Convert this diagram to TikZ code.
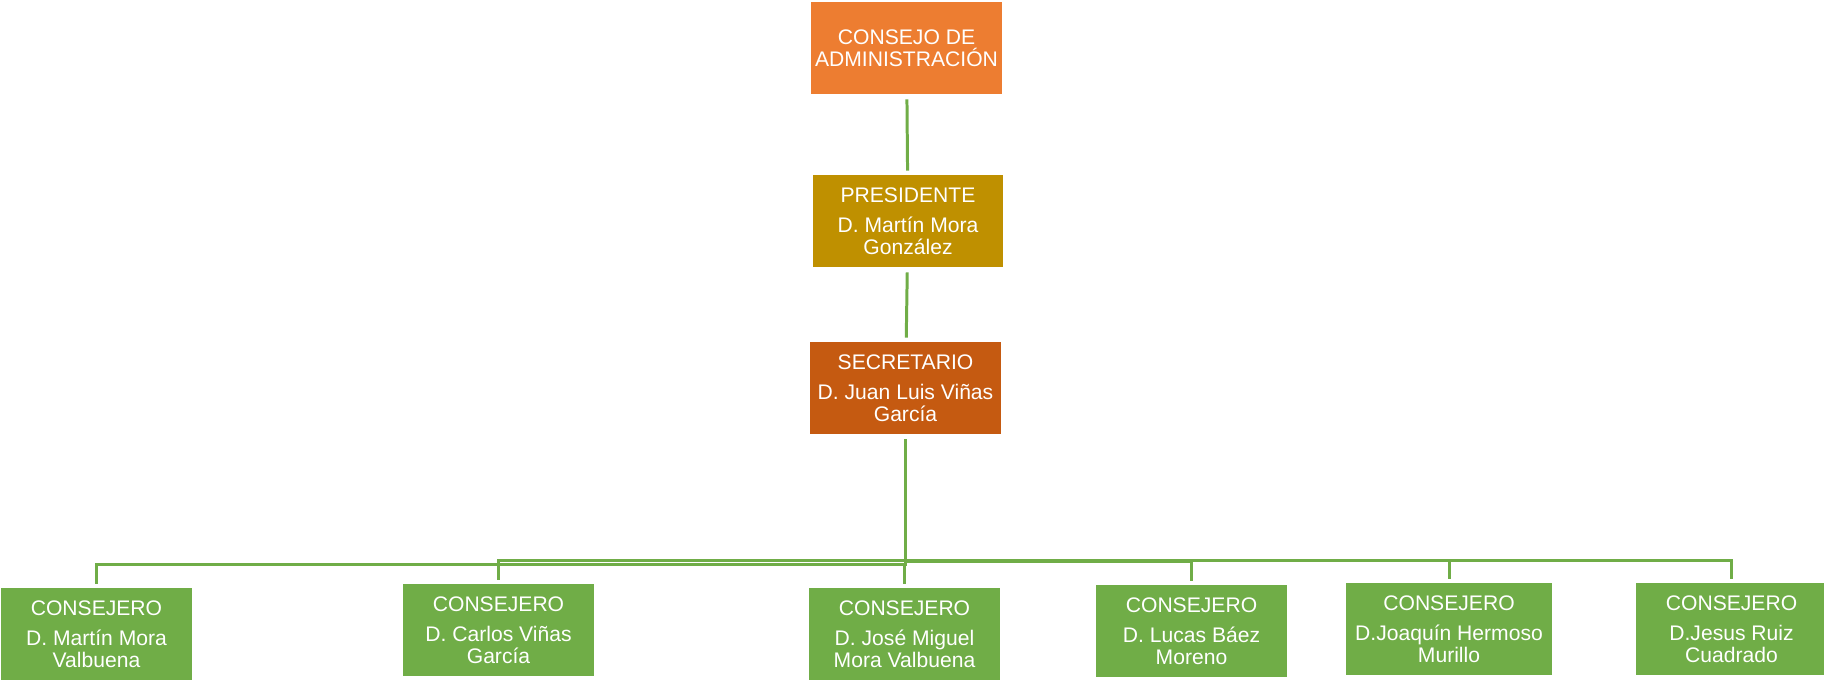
\documentclass[tikz,border=0pt]{standalone}
\usepackage{fontspec}
\setmainfont{Liberation Sans}
\definecolor{boardorange}{HTML}{ED7D31}
\definecolor{presgold}{HTML}{BF9000}
\definecolor{secrust}{HTML}{C55A11}
\definecolor{memgreen}{HTML}{70AD47}

\begin{document}
\begin{tikzpicture}[x=0.01cm,y=-0.01cm,
  box/.style={rectangle,draw=white,line width=0.3pt,text=white,align=center,inner sep=0pt,
    minimum width=1.91cm,minimum height=0.93cm,font=\fontsize{6}{6.2}\selectfont},
  link/.style={draw=memgreen,line width=0.85pt,shorten <=1.1pt,shorten >=1.1pt}]
\useasboundingbox (0,0) rectangle (1824,680);
% draw top of the chart
\node[box,fill=boardorange] (board) at (906.5,48.5) {CONSEJO DE\\ADMINISTRACIÓN};
\node[box,fill=presgold] (pres) at (908,221.5) {PRESIDENTE\\[2.3pt]D. Martín Mora\\González};
\node[box,fill=secrust] (sec) at (905.5,388.5) {SECRETARIO\\[2.3pt]D. Juan Luis Viñas\\García};
\draw[link] (board) -- (pres);
\draw[link] (pres) -- (sec);
% draw members and their branches
\foreach \cx/\cy/\w/\by/\name [count=\i] in {
	96.5/634.5/1.91/565/{D. Martín Mora\\Valbuena},
	498.5/630.5/1.91/561/{D. Carlos Viñas\\García},
	904.5/634.5/1.91/565/{D. José Miguel\\Mora Valbuena},
	1191.5/631.5/1.91/562/{D. Lucas Báez\\Moreno},
	1449/629.5/2.06/561/{D.Joaquín Hermoso\\Murillo},
	1731.5/629.5/1.91/561/{D.Jesus Ruiz\\Cuadrado}}{
	\node[box,fill=memgreen,minimum width=\w cm] (cons\i) at (\cx,\cy) {CONSEJERO\\[2.3pt]\name};
	\coordinate (branch\i) at (\cx,\by);
	\draw[link] (sec.south) |- (branch\i) -- (cons\i.north);
}
\end{tikzpicture}
\end{document}
